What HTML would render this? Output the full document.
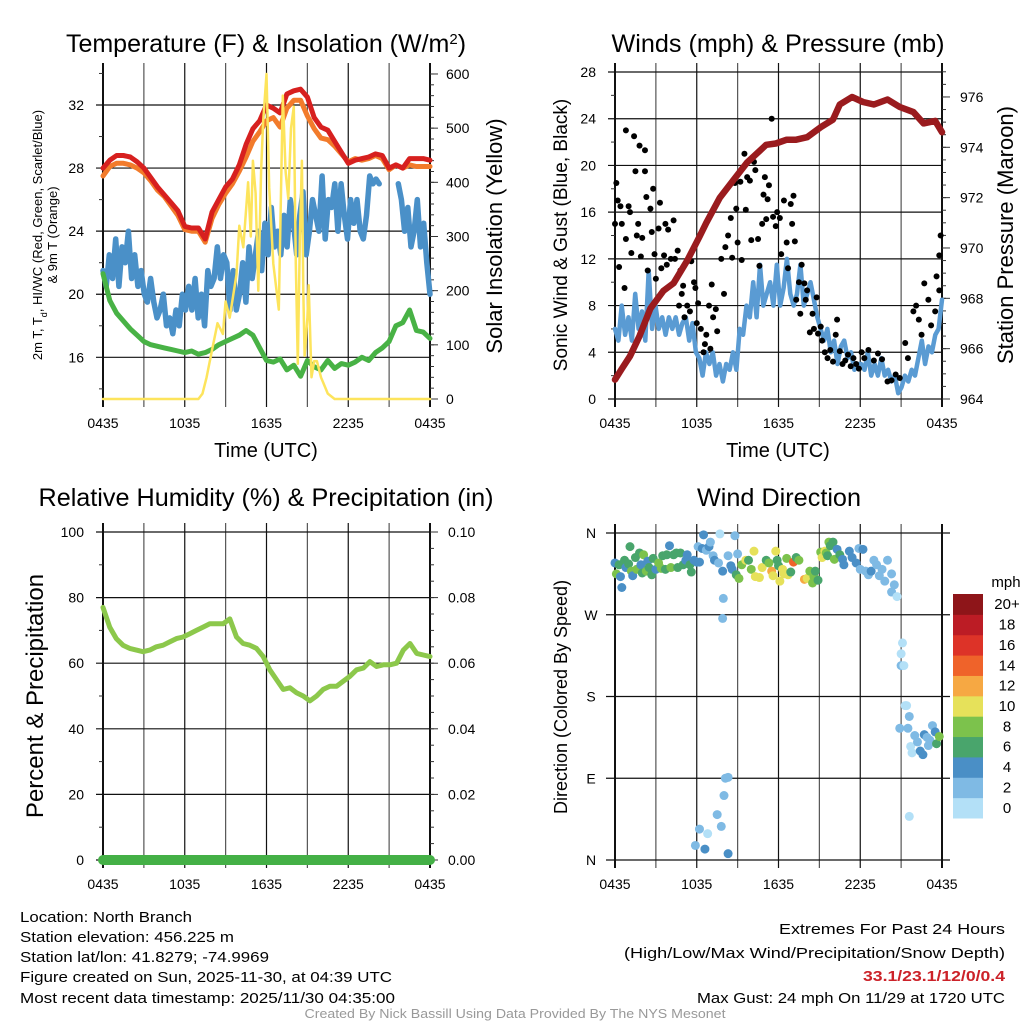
<!DOCTYPE html>
<html><head><meta charset="utf-8"><style>
html,body{margin:0;padding:0;background:#fff;}
svg{display:block;font-family:"Liberation Sans",sans-serif;}
</style></head><body>
<svg id="fig" width="1024" height="1024" viewBox="0 0 1024 1024" xmlns="http://www.w3.org/2000/svg">
<g id="static">
<text x="266" y="52" font-size="25" text-anchor="middle">Temperature (F) &amp; Insolation (W/m<tspan baseline-shift="super" font-size="15">2</tspan>)</text>
<text x="778" y="52" font-size="25" text-anchor="middle" textLength="333" lengthAdjust="spacingAndGlyphs">Winds (mph) &amp; Pressure (mb)</text>
<text x="266" y="506" font-size="25" text-anchor="middle" textLength="455" lengthAdjust="spacingAndGlyphs">Relative Humidity (%) &amp; Precipitation (in)</text>
<text x="779" y="506" font-size="25" text-anchor="middle" textLength="164" lengthAdjust="spacingAndGlyphs">Wind Direction</text>
<text x="266" y="457" font-size="20" text-anchor="middle">Time (UTC)</text>
<text x="778" y="457" font-size="20" text-anchor="middle">Time (UTC)</text>
<text transform="translate(42,235) rotate(-90)" font-size="13" text-anchor="middle">2m T, T<tspan baseline-shift="sub" font-size="9">d</tspan>, HI/WC (Red, Green, Scarlet/Blue)</text>
<text transform="translate(57,235) rotate(-90)" font-size="13" text-anchor="middle">&amp; 9m T (Orange)</text>
<text transform="translate(502,236) rotate(-90)" font-size="22" text-anchor="middle">Solar Insolation (Yellow)</text>
<text transform="translate(567,235) rotate(-90)" font-size="19" text-anchor="middle">Sonic Wind &amp; Gust (Blue, Black)</text>
<text transform="translate(1013,235) rotate(-90)" font-size="22" text-anchor="middle">Station Pressure (Maroon)</text>
<text transform="translate(43,696) rotate(-90)" font-size="24" text-anchor="middle">Percent &amp; Precipitation</text>
<text transform="translate(567,697) rotate(-90)" font-size="18" text-anchor="middle">Direction (Colored By Speed)</text>
<text x="1006" y="587" font-size="15" text-anchor="middle">mph</text>
<g font-size="15">
<text x="20" y="922" textLength="172" lengthAdjust="spacingAndGlyphs">Location: North Branch</text>
<text x="20" y="942" textLength="214" lengthAdjust="spacingAndGlyphs">Station elevation: 456.225 m</text>
<text x="20" y="962" textLength="249" lengthAdjust="spacingAndGlyphs">Station lat/lon: 41.8279; -74.9969</text>
<text x="20" y="982" textLength="372" lengthAdjust="spacingAndGlyphs">Figure created on Sun, 2025-11-30, at 04:39 UTC</text>
<text x="20" y="1003" textLength="375" lengthAdjust="spacingAndGlyphs">Most recent data timestamp: 2025/11/30 04:35:00</text>
</g>
<g font-size="15" text-anchor="end">
<text x="1005" y="934" textLength="226" lengthAdjust="spacingAndGlyphs">Extremes For Past 24 Hours</text>
<text x="1005" y="958" textLength="381" lengthAdjust="spacingAndGlyphs">(High/Low/Max Wind/Precipitation/Snow Depth)</text>
<text x="1005" y="981" font-weight="bold" fill="#cc2229" textLength="142" lengthAdjust="spacingAndGlyphs">33.1/23.1/12/0/0.4</text>
<text x="1005" y="1003" textLength="308" lengthAdjust="spacingAndGlyphs">Max Gust: 24 mph On 11/29 at 1720 UTC</text>
</g>
<text x="515" y="1018" font-size="13" fill="#999" text-anchor="middle" textLength="421" lengthAdjust="spacingAndGlyphs">Created By Nick Bassill Using Data Provided By The NYS Mesonet</text>
</g>
</svg>
<script>
// ---- data (hours since 0435 UTC) ----
const xTickLabels = ["0435","1035","1635","2235","0435"];
const tempTicks = [16,20,24,28,32];
const solarTicks = [0,100,200,300,400,500,600];
const windTicks = [0,4,8,12,16,20,24,28];
const presTicks = [964,966,968,970,972,974,976];
const rhTicks = [0,20,40,60,80,100];
const precipTicks = ["0.00","0.02","0.04","0.06","0.08","0.10"];
const dirTickLabels = ["N","E","S","W","N"];
const speedBins = ["0","2","4","6","8","10","12","14","16","18","20+"];
const tempRed = [28,28.5,28.8,28.8,28.7,28.4,28.0,27.4,26.8,26.3,25.8,25.3,24.3,24.2,24.2,23.5,25.2,26.0,26.8,27.3,28.2,29.5,30.5,31.0,32.0,31.8,31.5,32.7,32.9,33.0,32.5,31.2,30.6,30.4,29.7,29.0,28.3,28.5,28.6,28.7,28.9,28.8,28.0,28.2,28.0,28.6,28.6,28.6,28.5];
const tempOrange = [27.5,28.1,28.3,28.3,28.2,28.0,27.7,27.2,26.6,26.2,25.6,25.0,24.1,24.0,24.0,23.3,24.8,25.7,26.4,27.0,27.8,28.7,29.7,30.3,31.0,31.2,30.6,31.8,32.3,32.3,31.3,30.5,29.9,29.8,29.4,28.9,28.4,28.6,28.5,28.6,28.8,28.6,27.9,28.2,28.0,28.2,28.1,28.1,28.1];
const tempGreen = [21.3,19.6,18.8,18.3,17.8,17.4,17.0,16.8,16.7,16.6,16.5,16.4,16.3,16.4,16.2,16.3,16.5,16.8,17.0,17.2,17.4,17.7,17.4,16.6,15.8,15.7,15.9,15.2,15.5,14.8,15.8,15.4,15.2,15.8,15.3,15.6,15.5,15.7,16.0,15.8,16.3,16.6,17.0,18.0,18.2,19.0,17.7,17.6,17.2];
const tempBlue = [21.5,20.5,22.5,21,23.5,20.5,23,22,24,21,22.5,20.5,21.5,
 20,19.5,21,19.5,18.5,19,20,18,18.5,17.5,19,18,20,
 19,20.5,19,21,18.5,20,18,21.5,20.5,21,23,21,22.5,
 22,19,21.5,19,20,22,19.5,23,21,22.5,24,21.5,24.5,
 22.5,25.5,23,24,22.5,25,23,26,24.5,22.5,25,26.5,22.5,
 24,26,25,24,27.5,23.5,26,25.5,27,24,27,25,23.5,
 26,24.5,26,24,23.5,25,27.5,27,27.3,27,null,null,null,
 null,null,27,26,24,25.5,23,24,26,23,24.5,22,20];
const solarT = [0,7.0,7.3,7.6,8.0,8.4,8.8,9.0,9.3,9.55,9.8,10.0,10.3,10.65,10.85,11.0,11.2,11.4,11.6,11.75,12.0,12.2,12.5,12.9,13.2,13.4,13.6,13.8,14.0,14.15,14.3,14.45,14.6,14.7,14.8,15.0,15.1,15.3,15.5,15.7,16.0,16.5,17.0,24];
const solarV = [0,0,10,40,90,140,120,180,150,190,230,320,280,400,300,440,380,200,420,510,600,390,250,165,560,420,370,500,540,250,65,300,440,200,80,150,210,40,70,70,40,10,0,0];
const windBlue = [6,5,8,5.5,7,5,9,6,7.5,5,11,6,8,
 6,7,5.5,7,6,7,5.5,6.5,7,5,6.5,4,
 3.5,2,4,3,4,2,3,1.5,3,2.5,4,2.5,
 6,5.5,8,7,10,7,11.5,8,9,10,8,11.5,
 8,9.5,12,9,8,9,11.5,8,9,10,8.5,7,
 6,5,6,4,5,3,4.5,5,3.5,4,2.5,3,
 3,2.5,4,2,3,2,3.5,2,2.5,1.5,2,0.5,
 1,2,1.5,2.5,2,3.5,5,3,4.5,4,5.5,6,8.5];
const presT = [0,0.5,1.1,1.8,2.6,3.55,4.3,5.3,6.2,6.7,7.7,8.7,9.7,10.4,11.1,11.8,12.6,13.3,14.1,15.1,16.0,16.5,17.4,18.2,19.0,20.0,20.9,21.9,22.65,23.5,24];
const presV = [964.77,965.2,965.7,966.5,967.6,968.3,968.6,969.5,970.45,971.0,972.0,972.7,973.4,973.75,974.1,974.15,974.3,974.3,974.4,974.8,975.1,975.7,976.0,975.8,975.7,975.9,975.6,975.4,974.95,975.05,974.6];
const gustT = [0,0.1,0.2,0.3,0.4,0.5,0.7,0.8,0.8,1.0,1.1,1.2,1.4,1.5,1.6,1.7,1.8,1.9,2.0,2.2,2.2,2.3,2.4,2.6,2.7,2.8,2.9,3.0,3.2,3.3,3.4,3.6,3.7,3.8,3.9,4.1,4.3,4.4,4.6,4.7,4.8,4.9,5.0,5.1,5.3,5.5,5.6,5.8,5.9,6.0,6.1,6.3,6.5,6.6,6.7,6.9,7.0,7.1,7.2,7.4,7.5,7.8,8.0,8.1,8.3,8.5,8.6,8.8,8.9,9.0,9.2,9.3,9.5,9.6,9.7,9.9,10.0,10.2,10.3,10.5,10.6,10.8,10.9,11.0,11.1,11.2,11.3,11.5,11.6,11.8,11.9,12.1,12.2,12.4,12.6,12.7,12.9,13.0,13.1,13.2,13.3,13.5,13.6,13.7,13.9,14.0,14.1,14.3,14.5,14.6,14.8,14.9,15.1,15.2,15.4,15.6,15.8,16.0,16.2,16.3,16.5,16.7,16.9,17.1,17.3,17.5,17.7,17.9,18.1,18.3,18.6,19.0,19.3,19.6,20.0,20.3,20.6,20.9,21.3,21.5,21.9,22.1,22.3,22.5,22.7,23.0,23.2,23.5,23.6,23.8,23.9,23.8];
const gustV = [15,18.5,17,11.3,16.5,15,9.5,23,13.7,16.5,16,12.5,22.5,19.5,14,15,21.7,12.2,13.8,21.3,19.5,17.3,11,16.3,14.3,18,12.4,10.3,14.6,16.8,11.2,12.3,15,11.5,14.5,12,15.3,12,12.7,8,11,9,9.7,7,8,7.5,11.8,10,9.5,6.5,8.2,6,4,4.7,5.5,8,4.3,9.8,7,7.7,5.8,12,9,13,14,15.5,12.1,18.5,16.3,13.4,18.6,11.9,21,16.2,19,18.7,13.6,20.3,19.6,13.7,11.4,15,17.5,19,15.4,17.1,18.3,24,15.6,14.8,16,15.5,12.4,17,13.4,11.2,16.7,15,17.4,13.5,8.5,10,7.3,11.5,9.9,8.5,9.3,5.7,7.3,6,8.7,5.6,6.2,5,4,3.5,4.2,3.2,5.5,6.8,4.1,3.0,3.3,3.8,2.8,3.5,3.0,2.6,4.0,3.5,4.2,3.3,3.9,3.4,1.5,1.6,2.1,1.8,4.8,3.5,7.5,8,6.8,5.5,9.9,8.5,6.3,7.5,10.5,12.3,14,9.3];
const humidity = [77,71,67.5,65.5,64.5,64,63.5,64,65,65.5,66.5,67.5,68,69,70,71,72,72,72,73.5,68,66,65.5,64.5,62,58,55,52,52.5,51,50,48.5,50,52,53,53,54.5,56,58,58.5,60.5,59,59.5,59.5,60,64,66,63,62.5,62];
const precip = [0,0,0,0,0,0,0,0,0,0,0,0,0,0,0,0,0,0,0,0,0,0,0,0,0];
const dirT = [0,0.1,0.3,0.4,0.5,0.7,0.8,1.0,1.1,1.2,1.3,1.5,1.6,1.8,1.9,2.0,2.1,2.3,2.4,2.5,2.7,2.8,3.0,3.2,3.4,3.5,3.7,3.8,4.0,4.1,4.3,4.5,4.6,4.8,5.0,5.2,5.3,5.5,5.6,5.8,6.0,6.1,6.2,6.4,6.5,6.7,6.9,7.0,7.2,7.3,7.6,7.7,7.9,7.95,7.9,8.3,8.5,8.6,8.8,9.0,8.9,9.1,9.3,9.6,9.8,10.0,10.2,10.3,10.6,10.8,11.1,11.3,11.5,11.6,11.8,11.9,12.0,12.1,12.3,12.4,12.6,12.7,12.9,13.1,13.3,13.5,13.9,14.1,14.3,14.5,14.6,14.7,14.9,15.1,15.2,15.4,15.5,15.6,15.7,15.8,16.0,16.1,16.3,16.5,16.7,16.8,17.2,17.4,17.7,17.9,18.0,18.2,18.4,18.6,18.8,19.0,19.2,19.4,19.6,19.8,20.0,20.3,20.3,20.5,20.7,21.0,21.1,21.0,21.2,21.3,20.9,21.4,21.5,21.6,21.7,21.8,22.0,22.2,22.4,22.6,22.7,22.9,23.0,23.1,23.3,23.5,23.6,23.8,21.6,5.9,6.2,6.6,6.8,7.5,7.8,8.0,8.1,8.3,8.3];
const dirD = [327,315,325,312,300,330,322,326,345,318,313,333,320,338,325,316,336,318,329,322,314,332,320,327,321,335,320,336,346,322,336,338,322,338,325,330,336,325,317,330,328,345,328,343,358,341,345,350,335,330,327,359,318,288,266,335,324,320,357,337,314,310,325,330,330,320,340,312,311,322,330,327,318,313,340,330,324,307,320,315,332,314,317,328,333,330,309,310,318,305,312,318,308,339,333,340,338,335,350,346,350,331,342,336,331,325,340,333,327,343,320,342,318,314,318,330,325,313,320,307,330,315,295,303,290,227,239,214,214,170,145,170,145,158,125,118,137,130,120,116,138,135,126,132,148,141,128,136,48,16,34,12,29,50,37,71,90,91,7];
const dirS = [4,8,6,5,4,6,5,6,7,8,5,6,8,7,4,6,9,9,5,7,6,6,5,8,8,6,7,7,4,8,6,7,7,6,6,4,4,6,6,4,4,3,4,4,4,3,4,3,3,4,3,1,4,2,2,3,4,4,3,2,7,8,8,10,6,8,10,10,10,10,6,8,12,11,10,7,7,10,10,10,8,10,6,14,7,8,13,10,8,8,8,6,6,8,10,10,8,6,8,7,6,8,5,6,4,5,4,4,4,3,3,4,3,2,4,2,3,3,2,3,2,2,2,2,1,1,1,2,1,1,2,1,2,2,1,1,3,3,4,4,4,2,3,3,3,4,6,8,1,3,3,4,1,3,3,3,2,2,4];

const binColors = ["#b3e0f7","#7fbae4","#4a8fc6","#49a56c","#7cc24c","#e6e15a","#f6a843","#ef632a","#dd3328","#bc1c25","#8e1519"];
const NS="http://www.w3.org/2000/svg";
const svg=document.getElementById('fig');
function el(tag,attrs,parent){const e=document.createElementNS(NS,tag);for(const k in attrs)e.setAttribute(k,attrs[k]);(parent||svg).appendChild(e);return e;}
function tx(h,p){return p.x0+h/24*(p.x1-p.x0);}

const P1={x0:103,x1:430,y0:72,y1:399}, P2={x0:615,x1:942,y0:72,y1:399}, P3={x0:103,x1:430,y0:532,y1:860}, P4={x0:615,x1:942,y0:533,y1:860};
const yTemp=v=>105+(32-v)*15.77, ySolar=v=>399-v*0.5417;
const yWind=v=>399-v*(327/28), yPres=v=>399-(v-964)*25.17;
const yRH=v=>860-v*3.28, yPrecip=v=>860-v*3280;
const yDir=v=>860-v/360*327;

function frame(p,name,hLines,hx0,hx1,labelsBelowY){
  const g=el('g',{});
  
  
  for(let i=0;i<=8;i++){const x=tx(i*3,p);
    const l=el('line',{x1:x,x2:x,y1:p.y0-9,y2:p.y1+8,stroke:(i%2?'#555':'#111'),'stroke-width':(i==0||i==8)?2:1.2},g);
    
    }
  hLines.forEach(y=>{const l=el('line',{x1:hx0,x2:hx1,y1:y,y2:y,stroke:'#111','stroke-width':1.2},g);
    
    });
  xTickLabels.forEach((s,i)=>{const t=el('text',{x:tx(i*6,p),y:labelsBelowY,'font-size':14,'text-anchor':'middle'},g);t.textContent=s;
    
    });
}
function ticks(x,ys,len,name){const g=el('g',{});
  
  
  ys.forEach(y=>el('line',{x1:x,x2:x+len,y1:y,y2:y,stroke:'#333','stroke-width':1},g));}
function labels(x,ys,strs,anchor,name){ys.forEach((y,i)=>{const t=el('text',{x:x,y:y+5,'font-size':14,'text-anchor':anchor});t.textContent=strs[i];
  
  });}
function path(xs,ys,attrs,name){let d='',pen=false;xs.forEach((x,i)=>{if(ys[i]==null){pen=false;return;}d+=(pen?'L':'M')+x.toFixed(1)+' '+ys[i].toFixed(1);pen=true;});
  const e=el('path',Object.assign({d:d,fill:'none','stroke-linejoin':'round','stroke-linecap':'round'},attrs));
  
  return e;}
const series=(arr,p,yf)=>[arr.map((v,i)=>tx(i*24/(arr.length-1),p)),arr.map(v=>v==null?null:yf(v))];

// Panel 1
frame(P1,'temperature',tempTicks.map(yTemp),P1.x0-7,P1.x1,428);
ticks(P1.x0-4,[14,18,22,26,30,34].map(yTemp),4,'temp-minor-ticks');
ticks(P1.x1,solarTicks.map(ySolar),8,'solar-major-ticks');
ticks(P1.x1,Array.from({length:31},(_,i)=>ySolar(i*20)),4,'solar-minor-ticks');
labels(84,tempTicks.map(yTemp),tempTicks.map(String),'end','temp-tick-label');
labels(446,solarTicks.map(ySolar),solarTicks.map(String),'start','solar-tick-label');
let s;
s=series(tempBlue,P1,yTemp);path(s[0],s[1],{stroke:'#4a90c8','stroke-width':5.5},'blue-windchill-line');
s=series(tempGreen,P1,yTemp);path(s[0],s[1],{stroke:'#48b245','stroke-width':5},'green-dewpoint-line');
s=series(tempOrange,P1,yTemp);path(s[0],s[1],{stroke:'#f27b2b','stroke-width':5},'orange-9m-temp-line');
s=series(tempRed,P1,yTemp);path(s[0],s[1],{stroke:'#d7201f','stroke-width':5},'red-2m-temp-line');
path(solarT.map(h=>tx(h,P1)),solarV.map(ySolar),{stroke:'#fde45c','stroke-width':2.5},'yellow-solar-line');

// Panel 2
frame(P2,'winds',windTicks.map(yWind),P2.x0-7,P2.x1,428);
ticks(P2.x0-4,[2,6,10,14,18,22,26].map(yWind),4,'wind-minor-ticks');
ticks(P2.x1,presTicks.map(yPres),8,'pressure-major-ticks');
ticks(P2.x1,Array.from({length:27},(_,i)=>yPres(964+i*0.5)),4,'pressure-minor-ticks');
labels(596,windTicks.map(yWind),windTicks.map(String),'end','wind-tick-label');
labels(960,presTicks.map(yPres),presTicks.map(String),'start','pressure-tick-label');
s=series(windBlue,P2,yWind);path(s[0],s[1],{stroke:'#5a9bd3','stroke-width':4.5},'sonic-wind-line');
gustT.forEach((h,i)=>{const c=el('circle',{cx:tx(h,P2),cy:yWind(gustV[i]),r:3,fill:'#000'});
  
  });
path(presT.map(h=>tx(h,P2)),presV.map(yPres),{stroke:'#9a1b1e','stroke-width':6.5},'pressure-line');

// Panel 3
frame(P3,'humidity',rhTicks.map(yRH),P3.x0-7,P3.x1,889);
ticks(P3.x0-4,[10,30,50,70,90].map(yRH),4,'rh-minor-ticks');
ticks(P3.x1,rhTicks.map(yRH),8,'precip-major-ticks');
ticks(P3.x1,Array.from({length:21},(_,i)=>yRH(i*5)),4,'precip-minor-ticks');
labels(84,rhTicks.map(yRH),rhTicks.map(String),'end','rh-tick-label');
labels(448,rhTicks.map(yRH),precipTicks,'start','precip-tick-label');
s=series(humidity,P3,yRH);path(s[0],s[1],{stroke:'#8cc84b','stroke-width':5},'humidity-line');
s=series(precip,P3,yPrecip);path(s[0],s[1],{stroke:'#44b046','stroke-width':10},'precipitation-line');

// Panel 4
frame(P4,'wind-direction',[0,90,180,270,360].map(yDir),606,950,889);
dirTickLabels.forEach((s2,i)=>{const t=el('text',{x:591,y:yDir(i*90)+5,'font-size':14,'text-anchor':'middle'});t.textContent=s2;
  
  });
dirT.forEach((h,i)=>{const c=el('circle',{cx:tx(h,P4),cy:yDir(dirD[i]),r:4.5,fill:binColors[Math.min(10,Math.floor(dirS[i]/2))]});
  
  });
// colorbar
speedBins.forEach((b,i)=>{const h=224/11,y=818-(i+1)*h;
  const r=el('rect',{x:953,y:y,width:30,height:h+0.5,fill:binColors[i]});
  
  
  const t=el('text',{x:1007,y:y+h/2+5,'font-size':15,'text-anchor':'middle'});t.textContent=b;
  
  });
</script>
</body></html>
